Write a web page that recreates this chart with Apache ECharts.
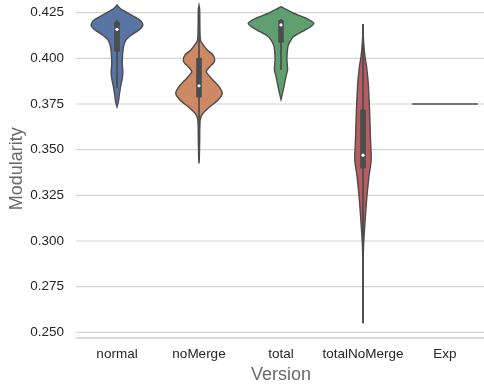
<!DOCTYPE html>
<html><head><meta charset="utf-8">
<script src="https://cdn.jsdelivr.net/npm/echarts@6/dist/echarts.min.js"></script>
<style>html,body{margin:0;padding:0;background:#fff;} #c{width:484px;height:384px;}</style>
</head><body><div id="c"></div>
<script>
const categories = ['normal', 'noMerge', 'total', 'totalNoMerge', 'Exp'];
const yTicks = [0.250, 0.275, 0.300, 0.325, 0.350, 0.375, 0.400, 0.425];
const fillColors = ['#5875a4', '#cc8963', '#5f9e6e', '#b55d60', '#8172b3'];

// violin density profiles: [value, relative half-width (1 = widest violin)]
const normalProfile = [
  [0.4292, 0], [0.4280, 0.06], [0.4265, 0.16], [0.4237, 0.44], [0.4210, 0.70],
  [0.4183, 0.79], [0.4155, 0.67], [0.4128, 0.44], [0.4100, 0.27], [0.4064, 0.20],
  [0.4020, 0.17], [0.3970, 0.16], [0.3920, 0.18], [0.3880, 0.15], [0.3845, 0.11],
  [0.3800, 0.07], [0.3760, 0.04], [0.3735, 0]
];
const noMergeProfile = [
  [0.4290, 0], [0.4270, 0.02], [0.4200, 0.025], [0.4140, 0.03], [0.4100, 0.045],
  [0.4083, 0.09], [0.4046, 0.25], [0.4018, 0.43], [0.3990, 0.48], [0.3972, 0.43],
  [0.3954, 0.33], [0.3927, 0.22], [0.3890, 0.38], [0.3845, 0.61], [0.3808, 0.71],
  [0.3772, 0.58], [0.3735, 0.33], [0.3699, 0.12], [0.3680, 0.06], [0.3650, 0.03],
  [0.3550, 0.02], [0.3450, 0.01], [0.3425, 0]
];
const totalProfile = [
  [0.4283, 0], [0.4270, 0.14], [0.4247, 0.38], [0.4220, 0.76], [0.4192, 1.0],
  [0.4170, 0.88], [0.4155, 0.73], [0.4118, 0.38], [0.4090, 0.27], [0.4064, 0.21],
  [0.4000, 0.18], [0.3936, 0.20], [0.3900, 0.15], [0.3863, 0.11], [0.3808, 0.045],
  [0.3775, 0]
];
const totalNoMergeProfile = [
  [0.4188, 0], [0.4120, 0.01], [0.4064, 0.03], [0.4009, 0.06], [0.3954, 0.11],
  [0.3863, 0.16], [0.3717, 0.20], [0.3553, 0.23], [0.3443, 0.25], [0.3351, 0.18],
  [0.3224, 0.11], [0.3059, 0.045], [0.2968, 0.015], [0.2850, 0.005], [0.2550, 0]
];
const expProfile = [];

// inner box stats: [whisker low, q1, median, q3, whisker high]
const normalBox = [0.3836, 0.4036, 0.4159, 0.4201, 0.4212];
const noMergeBox = [0.3450, 0.3786, 0.3850, 0.4003, 0.4260];
const totalBox = [0.3936, 0.4086, 0.4183, 0.4210, 0.4215];
const totalNoMergeBox = [0.2550, 0.3397, 0.3470, 0.3720, 0.4188];
const expBox = [0.375, 0.375, 0.375, 0.375, 0.375];

const profiles = [normalProfile, noMergeProfile, totalProfile, totalNoMergeProfile, expProfile];
const boxes = [normalBox, noMergeBox, totalBox, totalNoMergeBox, expBox];

const FONT = '"Liberation Sans", Arial, sans-serif';
const DARK = '#4c4c4c';

const chart = echarts.init(document.getElementById('c'), null, {renderer: 'canvas'});

function renderViolin(params, api) {
  const i = api.value(0);
  const prof = profiles[i];
  const box = boxes[i];
  const band = api.size([1, 0])[0];
  const hw = 0.4 * band;
  const cx = api.coord([i, box[2]])[0];
  const children = [];
  if (prof.length === 0) {
    const y = api.coord([i, box[2]])[1];
    children.push({type: 'line', shape: {x1: cx - hw, y1: y, x2: cx + hw, y2: y},
      style: {stroke: DARK, lineWidth: 1.6}});
    return {type: 'group', children};
  }
  const right = prof.map(p => [cx + p[1] * hw, api.coord([i, p[0]])[1]]);
  const left = prof.slice().reverse().map(p => [cx - p[1] * hw, api.coord([i, p[0]])[1]]);
  children.push({type: 'polygon', shape: {points: right.concat(left), smooth: 0.25},
    style: {fill: fillColors[i], stroke: DARK, lineWidth: 1.4}});
  const yLow = api.coord([i, box[0]])[1];
  const yQ1 = api.coord([i, box[1]])[1];
  const yMed = api.coord([i, box[2]])[1];
  const yQ3 = api.coord([i, box[3]])[1];
  const yHigh = api.coord([i, box[4]])[1];
  children.push({type: 'line', shape: {x1: cx, y1: yLow, x2: cx, y2: yHigh},
    style: {stroke: DARK, lineWidth: 1.7}});
  children.push({type: 'rect', shape: {x: cx - 2.8, y: yQ3, width: 5.6, height: yQ1 - yQ3, r: 1},
    style: {fill: DARK}});
  children.push({type: 'circle', shape: {cx: cx, cy: yMed, r: 1.6}, style: {fill: '#ffffff'}});
  return {type: 'group', children};
}

function renderGrid(params, api) {
  const v = api.value(1);
  const cs = params.coordSys;
  const y = api.coord([0, v])[1];
  return {type: 'group', children: [
    {type: 'line', shape: {x1: cs.x, y1: y, x2: cs.x + cs.width, y2: y},
      style: {stroke: '#d4d4d4', lineWidth: 1.2}},
    {type: 'text', x: cs.x - 12, y: y,
      style: {text: v.toFixed(3), fill: '#262626', font: '13.5px ' + FONT,
        align: 'right', verticalAlign: 'middle'}}
  ]};
}

chart.setOption({
  backgroundColor: '#ffffff',
  animation: false,
  grid: {left: 76, top: 0, width: 410, height: 337.5, containLabel: false, outerBoundsMode: 'none'},
  xAxis: {
    type: 'category', data: categories, boundaryGap: true,
    axisLine: {show: true, lineStyle: {color: '#d0d0d0', width: 1.6}},
    axisTick: {show: false},
    axisLabel: {color: '#262626', fontSize: 13.5, fontFamily: FONT, margin: 10, interval: 0},
    splitLine: {show: false},
    name: 'Version', nameLocation: 'middle', nameGap: 28,
    nameTextStyle: {color: '#6a6a6a', fontSize: 18, fontFamily: FONT}
  },
  yAxis: {
    type: 'value', min: 0.24715, max: 0.43195,
    axisLine: {show: false}, axisTick: {show: false},
    axisLabel: {show: false}, splitLine: {show: false},
    name: 'Modularity', nameLocation: 'middle', nameGap: 50,
    nameTextStyle: {color: '#6a6a6a', fontSize: 18, fontFamily: FONT}
  },
  series: [
    {type: 'custom', z: 1, silent: true, renderItem: renderGrid,
      data: yTicks.map(v => [0, v]), clip: false},
    {type: 'custom', z: 2, silent: true, renderItem: renderViolin,
      data: categories.map((c, i) => [i, boxes[i][2]]), clip: false}
  ]
});
</script>
</body></html>
